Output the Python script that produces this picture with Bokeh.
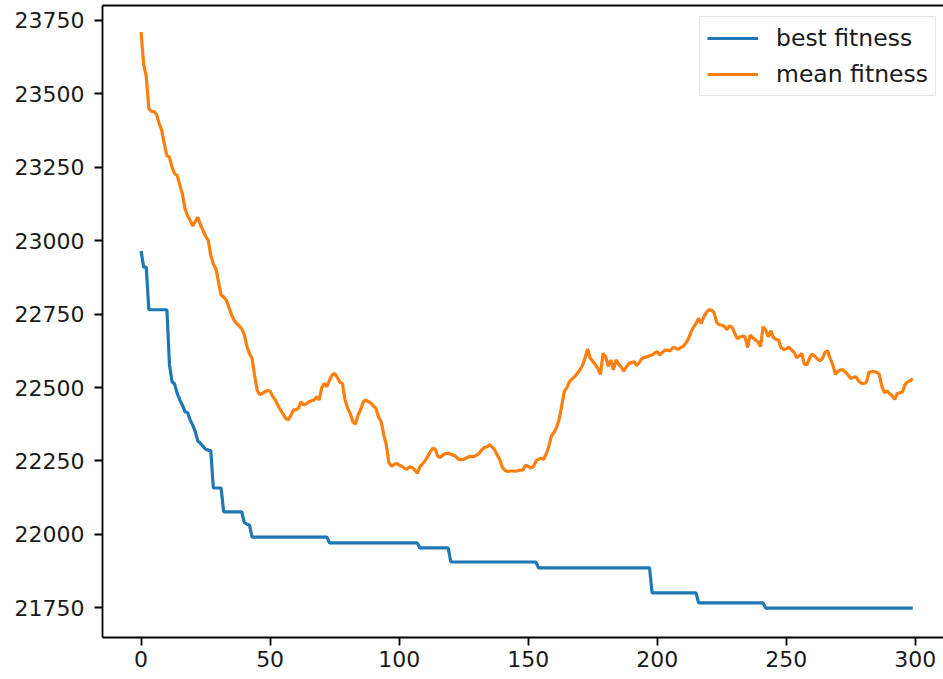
from bokeh.plotting import figure
from bokeh.models import Range1d, FixedTicker, LinearAxis
from bokeh.embed import file_html
from bokeh.resources import INLINE

# mean fitness of the population per generation
mean_fitness = [
    23710, 23600, 23560, 23450, 23440, 23440, 23430, 23400, 23375, 23330,
    23290, 23285, 23250, 23228, 23222, 23190, 23160, 23110, 23085, 23070,
    23050, 23065, 23080, 23055, 23035, 23015, 23002, 22950, 22920, 22905,
    22860, 22815, 22808, 22798, 22775, 22748, 22730, 22718, 22710, 22700,
    22680, 22640, 22615, 22600, 22540, 22490, 22476, 22480, 22486, 22490,
    22488, 22470, 22458, 22440, 22424, 22410, 22395, 22390, 22405, 22424,
    22424, 22430, 22452, 22441, 22445, 22452, 22455, 22458, 22469, 22458,
    22500, 22514, 22503, 22525, 22543, 22548, 22535, 22518, 22514, 22460,
    22430, 22412, 22385, 22375, 22405, 22424, 22450, 22458, 22452, 22448,
    22437, 22430, 22400, 22385, 22340, 22305, 22245, 22232, 22238, 22242,
    22236, 22232, 22225, 22222, 22230, 22228, 22220, 22208, 22230, 22240,
    22250, 22265, 22280, 22293, 22290, 22265, 22262, 22271, 22275, 22276,
    22273, 22270, 22265, 22256, 22254, 22256, 22260, 22265, 22266, 22265,
    22270, 22276, 22288, 22296, 22298, 22305, 22298, 22288, 22270, 22254,
    22228, 22218, 22214, 22216, 22216, 22215, 22217, 22219, 22220, 22236,
    22232, 22226, 22230, 22250, 22256, 22259, 22256, 22275, 22300, 22336,
    22348, 22365, 22392, 22440, 22488, 22500, 22520, 22530, 22537, 22548,
    22560, 22575, 22600, 22632, 22600, 22590, 22578, 22565, 22545, 22616,
    22605, 22572, 22594, 22560, 22594, 22580, 22570, 22556, 22570, 22582,
    22585, 22588, 22575, 22585, 22599, 22602, 22605, 22608, 22611, 22618,
    22622, 22611, 22620, 22628, 22627, 22625, 22636, 22635, 22630, 22636,
    22640, 22650, 22665, 22688, 22705, 22718, 22735, 22718, 22740, 22756,
    22765, 22764, 22755, 22722, 22714, 22713, 22708, 22697, 22710, 22705,
    22685, 22667, 22672, 22675, 22673, 22637, 22679, 22670, 22662, 22656,
    22640, 22707, 22696, 22673, 22693, 22670, 22664, 22662, 22635, 22630,
    22632, 22638, 22628, 22620, 22602, 22608, 22616, 22580, 22578, 22600,
    22614, 22607, 22598, 22591, 22599, 22620, 22625, 22599, 22578, 22545,
    22555, 22560, 22560, 22552, 22542, 22531, 22535, 22537, 22522, 22515,
    22514, 22517, 22552, 22554, 22554, 22552, 22545, 22505, 22483, 22489,
    22480, 22472, 22460, 22480, 22482, 22485, 22510, 22520, 22523, 22531,
]

# best fitness per generation
best_fitness = [
    22965, 22910, 22910, 22765, 22765, 22765, 22765, 22765, 22765, 22765,
    22765, 22578, 22520, 22512, 22480, 22458, 22440, 22418, 22415, 22390,
    22372, 22350, 22318, 22310, 22300, 22290, 22287, 22285, 22158, 22158,
    22158, 22158, 22077, 22077, 22077, 22077, 22077, 22077, 22077, 22077,
    22040, 22035, 22032, 21991, 21991, 21991, 21991, 21991, 21991, 21991,
    21991, 21991, 21991, 21991, 21991, 21991, 21991, 21991, 21991, 21991,
    21991, 21991, 21991, 21991, 21991, 21991, 21991, 21991, 21991, 21991,
    21991, 21991, 21991, 21971, 21971, 21971, 21971, 21971, 21971, 21971,
    21971, 21971, 21971, 21971, 21971, 21971, 21971, 21971, 21971, 21971,
    21971, 21971, 21971, 21971, 21971, 21971, 21971, 21971, 21971, 21971,
    21971, 21971, 21971, 21971, 21971, 21971, 21971, 21971, 21954, 21954,
    21954, 21954, 21954, 21954, 21954, 21954, 21954, 21954, 21954, 21954,
    21906, 21906, 21906, 21906, 21906, 21906, 21906, 21906, 21906, 21906,
    21906, 21906, 21906, 21906, 21906, 21906, 21906, 21906, 21906, 21906,
    21906, 21906, 21906, 21906, 21906, 21906, 21906, 21906, 21906, 21906,
    21906, 21906, 21906, 21906, 21886, 21886, 21886, 21886, 21886, 21886,
    21886, 21886, 21886, 21886, 21886, 21886, 21886, 21886, 21886, 21886,
    21886, 21886, 21886, 21886, 21886, 21886, 21886, 21886, 21886, 21886,
    21886, 21886, 21886, 21886, 21886, 21886, 21886, 21886, 21886, 21886,
    21886, 21886, 21886, 21886, 21886, 21886, 21886, 21886, 21801, 21801,
    21801, 21801, 21801, 21801, 21801, 21801, 21801, 21801, 21801, 21801,
    21801, 21801, 21801, 21801, 21801, 21801, 21767, 21767, 21767, 21767,
    21767, 21767, 21767, 21767, 21767, 21767, 21767, 21767, 21767, 21767,
    21767, 21767, 21767, 21767, 21767, 21767, 21767, 21767, 21767, 21767,
    21767, 21767, 21749, 21749, 21749, 21749, 21749, 21749, 21749, 21749,
    21749, 21749, 21749, 21749, 21749, 21749, 21749, 21749, 21749, 21749,
    21749, 21749, 21749, 21749, 21749, 21749, 21749, 21749, 21749, 21749,
    21749, 21749, 21749, 21749, 21749, 21749, 21749, 21749, 21749, 21749,
    21749, 21749, 21749, 21749, 21749, 21749, 21749, 21749, 21749, 21749,
    21749, 21749, 21749, 21749, 21749, 21749, 21749, 21749, 21749, 21749,
]

generation = list(range(len(mean_fitness)))

x_ticks = [0, 50, 100, 150, 200, 250, 300]
y_ticks = [21750, 22000, 22250, 22500, 22750, 23000, 23250, 23500, 23750]
series_labels = ["best fitness", "mean fitness"]
series_colors = ["#1f77b4", "#ff7f0e"]

FONT = "DejaVu Sans"
FS = "22px"
TEXT_COLOR = "#1a1a1a"

p = figure(
    width=943, height=679,
    output_backend="svg", toolbar_location=None,
    x_range=Range1d(-14.95, 310.9), y_range=Range1d(21649, 23801),
    min_border_left=102, min_border_right=0, min_border_top=5, min_border_bottom=42,
    background_fill_color="white", border_fill_color="white",
)
p.grid.visible = False
p.outline_line_color = None

for ax, ticks in ((p.xaxis[0], x_ticks), (p.yaxis[0], y_ticks)):
    ax.ticker = FixedTicker(ticks=ticks)
    ax.axis_line_color = "black"
    ax.axis_line_width = 1.8
    ax.major_tick_line_color = "black"
    ax.major_tick_line_width = 1.8
    ax.major_tick_in = 0
    ax.major_tick_out = 8
    ax.minor_tick_line_color = None
    ax.major_label_text_font = FONT
    ax.major_label_text_font_size = FS
    ax.major_label_text_color = TEXT_COLOR
p.yaxis[0].major_label_standoff = 10
p.xaxis[0].major_label_standoff = 5

top = LinearAxis(
    ticker=FixedTicker(ticks=[]),
    axis_line_color="black", axis_line_width=1.8,
    major_tick_in=0, major_tick_out=0, minor_tick_in=0, minor_tick_out=0,
    major_label_standoff=0, major_label_text_font_size="1px",
)
p.add_layout(top, "above")

p.line(generation, best_fitness, color=series_colors[0], line_width=3.2,
       legend_label=series_labels[0])
p.line(generation, mean_fitness, color=series_colors[1], line_width=3.2,
       legend_label=series_labels[1])

lg = p.legend[0]
lg.location = (597, 541)
lg.label_text_font = FONT
lg.label_text_font_size = "23.5px"
lg.label_text_color = TEXT_COLOR
lg.glyph_width = 51
lg.glyph_height = 24
lg.label_height = 24
lg.label_standoff = 18
lg.padding = 7
lg.spacing = 8
lg.margin = 0
lg.border_line_color = "#cccccc"
lg.border_line_width = 1.5
lg.background_fill_color = "white"
lg.background_fill_alpha = 0.8

open("out.html", "w").write(file_html(p, INLINE))
